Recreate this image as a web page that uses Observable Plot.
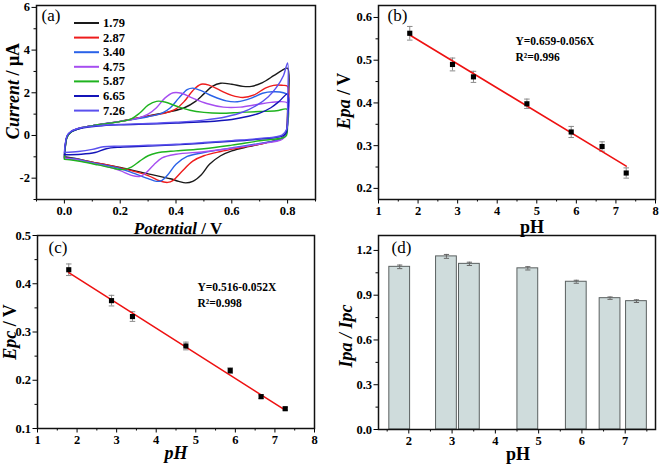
<!DOCTYPE html>
<html><head><meta charset="utf-8">
<script src="https://cdn.jsdelivr.net/npm/d3@7"></script>
<script src="https://cdn.jsdelivr.net/npm/@observablehq/plot@0.6"></script>
<style>
body{margin:0;background:#fff;}
#wrap{position:relative;width:661px;height:465px;overflow:hidden;background:#fff;}
.panel{position:absolute;}
#overlay{position:absolute;left:0;top:0;pointer-events:none;}
</style></head><body><div id="wrap"></div>
<script>
// ---------- data ----------
const pH = [1.79, 2.87, 3.40, 4.75, 5.87, 6.65, 7.26];
const pHLabels = ["1.79","2.87","3.40","4.75","5.87","6.65","7.26"];
const cvColors = ["#1a1a1a","#ee1c1c","#2a62e8","#a64ef0","#1fb31f","#1414b8","#5a50ee"];

const cv179 = [[0,-1.0],[0.003,-0.5],[0.01,-0.05],[0.025,0.18],[0.06,0.36],[0.12,0.5],[0.2,0.66],[0.3,0.92],[0.38,1.12],[0.43,1.3],[0.47,1.6],[0.5,1.95],[0.53,2.3],[0.56,2.45],[0.6,2.4],[0.64,2.3],[0.67,2.3],[0.71,2.48],[0.75,2.8],[0.78,3.05],[0.8,3.15],[0.8,1.2],[0.795,0.15],[0.78,-0.12],[0.72,-0.35],[0.66,-0.52],[0.6,-0.72],[0.56,-0.95],[0.52,-1.35],[0.49,-1.85],[0.46,-2.15],[0.435,-2.22],[0.41,-2.15],[0.38,-2.03],[0.3,-1.8],[0.2,-1.5],[0.1,-1.25],[0.04,-1.08],[0,-1.0]];
const cv287 = [[0,-1.05],[0.003,-0.55],[0.01,-0.05],[0.025,0.18],[0.06,0.36],[0.12,0.5],[0.2,0.66],[0.3,0.9],[0.36,1.05],[0.4,1.25],[0.43,1.6],[0.46,2.1],[0.49,2.4],[0.52,2.35],[0.56,2.1],[0.6,1.88],[0.64,1.78],[0.68,1.9],[0.72,2.22],[0.75,2.35],[0.78,2.35],[0.8,2.3],[0.8,1.0],[0.795,0.1],[0.78,-0.15],[0.72,-0.35],[0.64,-0.55],[0.56,-0.75],[0.5,-0.95],[0.46,-1.2],[0.42,-1.7],[0.39,-2.1],[0.37,-2.2],[0.34,-2.12],[0.3,-1.88],[0.2,-1.52],[0.1,-1.25],[0.04,-1.1],[0,-1.05]];
const cv340 = [[0,-1.05],[0.003,-0.55],[0.01,-0.05],[0.025,0.18],[0.06,0.36],[0.12,0.5],[0.2,0.66],[0.3,0.88],[0.35,1.05],[0.38,1.3],[0.41,1.75],[0.44,2.15],[0.46,2.22],[0.49,2.1],[0.53,1.85],[0.58,1.62],[0.62,1.58],[0.67,1.75],[0.71,1.98],[0.75,2.05],[0.8,1.9],[0.8,0.9],[0.795,0.1],[0.78,-0.15],[0.7,-0.37],[0.6,-0.58],[0.5,-0.8],[0.44,-0.98],[0.4,-1.35],[0.37,-1.85],[0.35,-2.1],[0.33,-2.15],[0.3,-2.02],[0.25,-1.78],[0.2,-1.55],[0.1,-1.27],[0.04,-1.1],[0,-1.05]];
const cv475 = [[0,-1.08],[0.003,-0.55],[0.01,-0.05],[0.025,0.18],[0.06,0.36],[0.12,0.5],[0.2,0.66],[0.26,0.8],[0.3,1.0],[0.33,1.3],[0.36,1.75],[0.39,2.0],[0.42,1.98],[0.46,1.75],[0.51,1.5],[0.57,1.33],[0.63,1.33],[0.69,1.45],[0.74,1.55],[0.8,1.52],[0.8,0.7],[0.795,0.05],[0.78,-0.18],[0.7,-0.4],[0.6,-0.6],[0.5,-0.76],[0.4,-0.88],[0.35,-1.05],[0.32,-1.38],[0.29,-1.78],[0.27,-1.92],[0.24,-1.87],[0.2,-1.65],[0.15,-1.45],[0.1,-1.3],[0.04,-1.13],[0,-1.08]];
const cv587 = [[0,-1.12],[0.003,-0.6],[0.01,-0.08],[0.025,0.16],[0.06,0.35],[0.12,0.5],[0.2,0.65],[0.24,0.78],[0.27,1.05],[0.3,1.42],[0.33,1.6],[0.36,1.57],[0.4,1.38],[0.45,1.18],[0.5,1.08],[0.56,1.04],[0.63,1.08],[0.7,1.12],[0.76,1.16],[0.8,1.22],[0.8,0.5],[0.795,-0.02],[0.78,-0.12],[0.7,-0.25],[0.6,-0.45],[0.5,-0.62],[0.4,-0.72],[0.33,-0.82],[0.3,-0.95],[0.27,-1.2],[0.24,-1.48],[0.21,-1.6],[0.18,-1.55],[0.12,-1.38],[0.06,-1.22],[0.02,-1.14],[0,-1.12]];
const cv665 = [[0,-0.9],[0.003,-0.45],[0.01,-0.02],[0.025,0.18],[0.06,0.34],[0.12,0.44],[0.2,0.5],[0.3,0.54],[0.4,0.58],[0.5,0.64],[0.6,0.75],[0.66,0.9],[0.7,1.05],[0.74,1.3],[0.77,1.6],[0.8,1.95],[0.8,0.8],[0.795,0.12],[0.78,-0.03],[0.7,-0.17],[0.6,-0.27],[0.5,-0.36],[0.4,-0.44],[0.3,-0.5],[0.2,-0.55],[0.15,-0.62],[0.11,-0.8],[0.06,-0.88],[0,-0.9]];
const cv726 = [[0,-0.8],[0.003,-0.4],[0.01,0.0],[0.025,0.2],[0.06,0.36],[0.12,0.46],[0.2,0.52],[0.3,0.56],[0.4,0.62],[0.5,0.72],[0.58,0.88],[0.64,1.1],[0.69,1.42],[0.73,1.8],[0.76,2.25],[0.785,2.8],[0.8,3.4],[0.8,1.5],[0.797,0.3],[0.78,0.02],[0.7,-0.14],[0.6,-0.24],[0.5,-0.33],[0.4,-0.41],[0.3,-0.46],[0.2,-0.5],[0.14,-0.53],[0.1,-0.65],[0.05,-0.75],[0,-0.8]];
const cvCurves = [cv179, cv287, cv340, cv475, cv587, cv665, cv726];

const Epa    = [0.563, 0.490, 0.461, 0.398, 0.332, 0.298, 0.236];
const EpaErr = [0.016, 0.015, 0.013, 0.011, 0.013, 0.011, 0.012];
const Epc    = [0.429, 0.365, 0.332, 0.271, 0.220, 0.166, 0.141];
const EpcErr = [0.012, 0.011, 0.010, 0.008, 0.006, 0.004, 0.003];
const ratio    = [1.09, 1.16, 1.11, 1.08, 0.99, 0.88, 0.86];
const ratioErr = [0.012, 0.013, 0.011, 0.011, 0.010, 0.008, 0.009];
const fitEpa = [[1.79, 0.559], [7.26, 0.252]];
const fitEpc = [[1.79, 0.423], [7.26, 0.138]];
const eqEpa = "Y=0.659-0.056X\nR²=0.996";
const eqEpc = "Y=0.516-0.052X\nR²=0.998";

// tick values
const xTicksA = [0, 0.2, 0.4, 0.6, 0.8], xMinorA = [-0.1, 0.1, 0.3, 0.5, 0.7, 0.9];
const yTicksA = [-2, 0, 2, 4, 6], yMinorA = [-3, -1, 1, 3, 5];
const xTicksPH = [1, 2, 3, 4, 5, 6, 7, 8], xMinorPH = [1.5, 2.5, 3.5, 4.5, 5.5, 6.5, 7.5];
const yTicksB = [0.2, 0.3, 0.4, 0.5, 0.6], yMinorB = [0.25, 0.35, 0.45, 0.55];
const yTicksC = [0.1, 0.2, 0.3, 0.4, 0.5], yMinorC = [0.15, 0.25, 0.35, 0.45];
const xTicksD = [2, 3, 4, 5, 6, 7], xMinorD = [1.5, 2.5, 3.5, 4.5, 5.5, 6.5, 7.5];
const yTicksD = [0, 0.3, 0.6, 0.9, 1.2], yMinorD = [0.15, 0.45, 0.75, 1.05];

// ---------- helpers ----------
const wrap = document.getElementById("wrap");
const SERIF = '"Liberation Serif", "Times New Roman", serif';
const baseStyle = {fontFamily: SERIF, fontSize: "12.5px", fontWeight: "bold", color: "#000", background: "transparent", overflow: "visible"};
const f1 = d3.format(".1f");
const fInt = d => String(d);

function axes(xMaj, xMin, yMaj, yMin, fx, fy) {
  return [
    Plot.axisX({ticks: xMin, tickSize: 2.5, tickFormat: () => "", label: null}),
    Plot.axisY({ticks: yMin, tickSize: 2.5, tickFormat: () => "", label: null}),
    Plot.axisX({ticks: xMaj, tickSize: 4.5, tickPadding: 2, tickFormat: fx, label: null}),
    Plot.axisY({ticks: yMaj, tickSize: 4.5, tickPadding: 2, tickFormat: fy, label: null}),
    Plot.frame({stroke: "#111", strokeWidth: 1.5})
  ];
}
function place(svg, left, top) {
  const d = document.createElement("div");
  d.className = "panel"; d.style.left = left + "px"; d.style.top = top + "px";
  d.appendChild(svg); wrap.appendChild(d);
}
const panelLabel = (t, dx, dy) => Plot.text([t], {frameAnchor: "top-left", dx, dy, lineAnchor: "top", textAnchor: "start", fontSize: 17, fontWeight: "normal"});

// ---------- panel (a) ----------
const cvRows = cvCurves.flatMap((c, i) => c.map(([v, a]) => ({v, a, s: pHLabels[i]})));
place(Plot.plot({
  width: 330, height: 232, marginLeft: 36, marginRight: 15, marginTop: 5, marginBottom: 33,
  x: {domain: [-0.1, 0.9]}, y: {domain: [-3, 6.09]},
  color: {domain: pHLabels, range: cvColors},
  style: baseStyle,
  marks: [
    ...axes(xTicksA, xMinorA, yTicksA, yMinorA, f1, fInt),
    Plot.line(cvRows, {x: "v", y: "a", z: "s", stroke: "s", curve: "catmull-rom", strokeWidth: 1.4}),
    panelLabel("(a)", 5, 3)
  ]
}), 0, 0);

// ---------- panels (b) and (c) ----------
function scatterPanel(vals, errs, fit, eq, yDom, yMaj, yMin, lbl, eqdx, eqdy, dims) {
  const rows = pH.map((p, i) => ({p, v: vals[i], e: errs[i]}));
  return Plot.plot({
    ...dims,
    x: {domain: [1, 8]}, y: {domain: yDom},
    style: baseStyle,
    marks: [
      ...axes(xTicksPH, xMinorPH, yMaj, yMin, fInt, f1),
      Plot.ruleX(rows, {x: "p", y1: d => d.v - d.e, y2: d => d.v + d.e, stroke: "#8a8a8a", strokeWidth: 1}),
      Plot.link(rows, {x1: d => d.p - 0.07, x2: d => d.p + 0.07, y1: d => d.v + d.e, y2: d => d.v + d.e, stroke: "#8a8a8a", strokeWidth: 1}),
      Plot.link(rows, {x1: d => d.p - 0.07, x2: d => d.p + 0.07, y1: d => d.v - d.e, y2: d => d.v - d.e, stroke: "#8a8a8a", strokeWidth: 1}),
      Plot.line(fit, {x: d => d[0], y: d => d[1], stroke: "#ee1111", strokeWidth: 1.6}),
      Plot.dot(rows, {x: "p", y: "v", symbol: "square", fill: "#000", r: 2.9}),
      panelLabel(lbl[0], lbl[1], lbl[2]),
      Plot.text([eq], {frameAnchor: "top-left", dx: eqdx, dy: eqdy, lineAnchor: "top", textAnchor: "start", fontSize: 11.5, fontWeight: "bold", lineHeight: 1.4})
    ]
  });
}
place(scatterPanel(Epa, EpaErr, fitEpa, eqEpa, [0.174, 0.628], yTicksB, yMinorB, ["(b)", 9, 3], 137, 28,
  {width: 331, height: 232, marginLeft: 48, marginRight: 6, marginTop: 5, marginBottom: 33}), 330, 0);
place(scatterPanel(Epc, EpcErr, fitEpc, eqEpc, [0.1, 0.5], yTicksC, yMinorC, ["(c)", 11, 5], 160, 44,
  {width: 330, height: 233, marginLeft: 37, marginRight: 16, marginTop: 3, marginBottom: 37}), 0, 232);

// ---------- panel (d) ----------
const rowsD = pH.map((p, i) => ({p, v: ratio[i], e: ratioErr[i]}));
place(Plot.plot({
  width: 331, height: 233, marginLeft: 48, marginRight: 6, marginTop: 3, marginBottom: 36,
  x: {domain: [1.3, 7.7]}, y: {domain: [0, 1.3]},
  style: baseStyle,
  marks: [
    Plot.rectY(rowsD, {x1: d => d.p - 0.24, x2: d => d.p + 0.24, y: "v", fill: "#cfdcdc", stroke: "#5a6060", strokeWidth: 1}),
    Plot.ruleX(rowsD, {x: "p", y1: d => d.v - d.e, y2: d => d.v + d.e, stroke: "#666", strokeWidth: 1}),
    Plot.link(rowsD, {x1: d => d.p - 0.06, x2: d => d.p + 0.06, y1: d => d.v + d.e, y2: d => d.v + d.e, stroke: "#666", strokeWidth: 1}),
    Plot.link(rowsD, {x1: d => d.p - 0.06, x2: d => d.p + 0.06, y1: d => d.v - d.e, y2: d => d.v - d.e, stroke: "#666", strokeWidth: 1}),
    ...axes(xTicksD, xMinorD, yTicksD, yMinorD, fInt, f1),
    panelLabel("(d)", 13, 5)
  ]
}), 330, 232);

// ---------- overlay: axis titles and legend ----------
const ov = d3.select("#wrap").append("svg").attr("id", "overlay").attr("width", 661).attr("height", 465)
  .style("font-family", SERIF).style("font-weight", "bold");
function title(x, y, rot, parts, size) {
  const t = ov.append("text").attr("transform", `translate(${x},${y}) rotate(${rot})`)
    .attr("text-anchor", "middle").attr("dominant-baseline", "central").attr("font-size", size);
  parts.forEach(([s, it]) => t.append("tspan").text(s).attr("font-style", it ? "italic" : "normal"));
}
title(13, 91, -90, [["Current", 1], [" / μA", 0]], 18);
title(178, 228, 0, [["Potential", 1], [" / V", 0]], 17);
title(344, 101, -90, [["Epa", 1], [" / V", 0]], 18);
title(532, 227, 0, [["pH", 0]], 18);
title(10, 332, -90, [["Epc", 1], [" / V", 0]], 18);
title(176, 453, 0, [["pH", 1]], 18);
title(346, 336, -90, [["Ipa / Ipc", 1]], 18);
title(518, 454, 0, [["pH", 0]], 18);

pHLabels.forEach((lab, i) => {
  const y = 23 + i * 14.6;
  ov.append("line").attr("x1", 74).attr("x2", 99).attr("y1", y).attr("y2", y)
    .attr("stroke", cvColors[i]).attr("stroke-width", 2);
  ov.append("text").attr("x", 103).attr("y", y).attr("dominant-baseline", "central")
    .attr("font-size", 12.5).text(lab);
});
</script></body></html>
